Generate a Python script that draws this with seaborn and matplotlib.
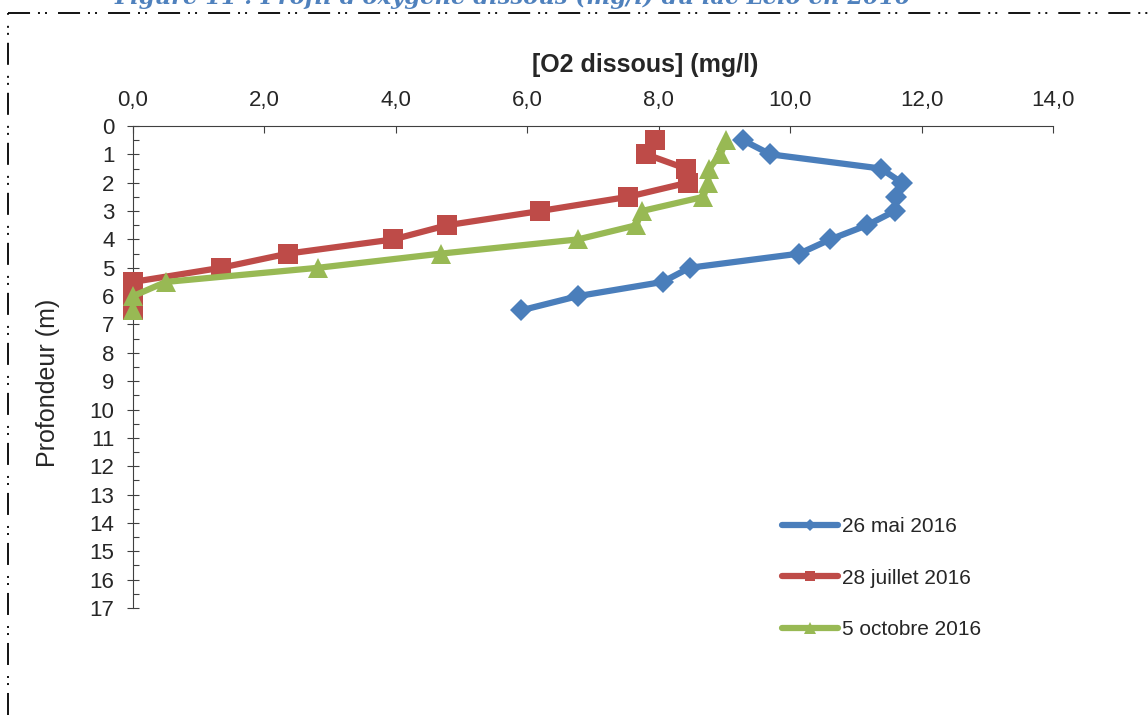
import numpy as np
import pandas as pd
import seaborn as sns
import matplotlib.pyplot as plt
from matplotlib.lines import Line2D
from matplotlib.ticker import MultipleLocator, FuncFormatter

# depth (m) of each measurement
depths = [0.5, 1.0, 1.5, 2.0, 2.5, 3.0, 3.5, 4.0, 4.5, 5.0, 5.5, 6.0, 6.5]

# dissolved oxygen (mg/l)
o2_mai = [9.28, 9.70, 11.38, 11.70, 11.61, 11.59, 11.17, 10.61, 10.14, 8.47, 8.06, 6.77, 5.91]
o2_juillet = [7.95, 7.81, 8.41, 8.44, 7.53, 6.19, 4.78, 3.96, 2.36, 1.34, 0.0, 0.0, 0.0]
o2_octobre = [9.03, 8.94, 8.77, 8.75, 8.68, 7.74, 7.66, 6.77, 4.69, 2.82, 0.50, 0.0, 0.0]

series_labels = ["26 mai 2016", "28 juillet 2016", "5 octobre 2016"]
series_colors = ["#4A7EBB", "#BE4B48", "#98B954"]
series_markers = ["D", "s", "^"]
series_msize = [11, 14, 15]

x_ticks = [0, 2, 4, 6, 8, 10, 12, 14]
y_ticks = list(range(0, 18))

title_text = "Figure 11 : Profil d'oxygène dissous (mg/l) du lac Lelo en 2016"

df = pd.DataFrame({
    "depth": depths * 3,
    "o2": o2_mai + o2_juillet + o2_octobre,
    "date": np.repeat(series_labels, len(depths)),
})

sns.set_style("white")
plt.rcParams["font.family"] = ["Liberation Sans", "DejaVu Sans"]

fig = plt.figure(figsize=(11.48, 7.15), dpi=100)
ax = fig.add_axes([133 / 1148, 1 - 608 / 715, 920 / 1148, 482 / 715])

for lab, col, mk, ms in zip(series_labels, series_colors, series_markers, series_msize):
    sub = df[df["date"] == lab]
    sns.lineplot(data=sub, x="o2", y="depth", sort=False, estimator=None,
                 color=col, marker=mk, markersize=ms, markeredgewidth=0,
                 linewidth=4.5, label=lab, ax=ax, clip_on=False, zorder=3)

ax.set_xlim(0, 14)
ax.set_ylim(17, 0)
ax.xaxis.tick_top()
ax.xaxis.set_label_position("top")
ax.set_xticks(x_ticks)
ax.xaxis.set_major_formatter(FuncFormatter(lambda v, p: f"{v:.1f}".replace(".", ",")))
ax.set_yticks(y_ticks)
ax.yaxis.set_minor_locator(MultipleLocator(0.5))

ax.tick_params(axis="x", which="major", direction="in", length=5, width=0.8,
               color="#404040", labelsize=16, pad=11, top=True, bottom=False)
ax.tick_params(axis="y", which="major", direction="inout", length=8.5, width=0.8,
               color="#404040", labelsize=16, pad=9, left=True)
ax.tick_params(axis="y", which="minor", direction="in", length=4, width=0.8,
               color="#404040", left=True)

for side in ["right", "bottom"]:
    ax.spines[side].set_visible(False)
for side in ["top", "left"]:
    ax.spines[side].set_color("#404040")
    ax.spines[side].set_linewidth(0.8)

ax.set_xlabel("[O2 dissous] (mg/l)", fontsize=18, fontweight="bold")
ax.xaxis.set_label_coords(0.557, 1.112)
ax.set_ylabel("Profondeur (m)", fontsize=18)
ax.yaxis.set_label_coords(-0.079, 0.467)

ax.legend(loc="upper left", bbox_to_anchor=(782 / 1148, 1 - 517 / 715),
          bbox_transform=fig.transFigure, frameon=False, fontsize=15,
          handlelength=2.7, handletextpad=0.2, labelspacing=1.56,
          borderpad=0, borderaxespad=0, markerscale=0.55)

# frame of the text box (dash-dot-dot border) and the clipped caption above it
border = (0, (12.2, 4.4, 1.1, 2.8, 1.1, 6.1))
fig.add_artist(Line2D([8 / 1148, 1], [1 - 13 / 715, 1 - 13 / 715], transform=fig.transFigure,
                      color="black", linewidth=1.3, linestyle=border))
fig.add_artist(Line2D([8 / 1148, 8 / 1148], [0, 1 - 13 / 715], transform=fig.transFigure,
                      color="black", linewidth=1.3, linestyle=border))
fig.text(115 / 1148, 1 - 4 / 715, title_text, fontsize=16.3, fontstyle="italic",
         fontweight="bold", color="#4F81BD", family=["DejaVu Serif"], va="baseline")

fig.savefig("out.png", dpi=100)
